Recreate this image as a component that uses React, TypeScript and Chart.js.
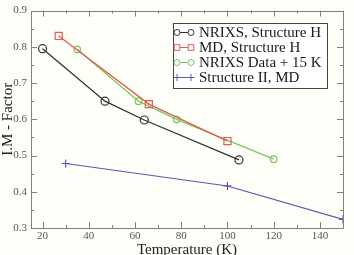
import React, { useEffect, useRef } from "react";
import { Chart, registerables } from "chart.js";

Chart.register(...registerables);

const nrixsHTemp = [20, 47, 64, 105];
const nrixsHValue = [0.795, 0.65, 0.598, 0.488];
const mdHTemp = [27, 66, 100];
const mdHValue = [0.83, 0.642, 0.54];
const nrixs15Temp = [35, 61.5, 78, 120];
const nrixs15Value = [0.793, 0.65, 0.6, 0.49];
const struct2Temp = [30, 100, 150];
const struct2Value = [0.478, 0.416, 0.324];

const xTickValues = [20, 40, 60, 80, 100, 120, 140];
const xMinorValues = [30, 50, 70, 90, 110, 130, 150];
const yTickValues = [0.3, 0.4, 0.5, 0.6, 0.7, 0.8, 0.9];
const yMinorValues = [0.35, 0.45, 0.55, 0.65, 0.75, 0.85];

const seriesNames = ["NRIXS, Structure H", "MD, Structure H", "NRIXS Data + 15 K", "Structure II, MD"];

const SERIF = "'Liberation Serif', 'DejaVu Serif', serif";
const FRAME = "#808080";

const zip = (xs: number[], ys: number[]) => xs.map((x, i) => ({ x, y: ys[i] }));

const framePlugin = {
  id: "frame",
  beforeDatasetsDraw(chart: any) {
    const { ctx, chartArea: a, scales } = chart;
    const xs = scales.x;
    const ys = scales.y;
    ctx.save();
    ctx.strokeStyle = FRAME;
    ctx.lineWidth = 1;
    ctx.beginPath();
    ctx.rect(Math.round(a.left) + 0.5, Math.round(a.top) + 0.5, Math.round(a.right - a.left), Math.round(a.bottom - a.top));
    ctx.stroke();
    const tick = (vals: number[], len: number) => {
      ctx.beginPath();
      vals.forEach((v) => {
        const px = Math.round(xs.getPixelForValue(v)) + 0.5;
        ctx.moveTo(px, a.bottom);
        ctx.lineTo(px, a.bottom - len);
        ctx.moveTo(px, a.top);
        ctx.lineTo(px, a.top + len);
      });
      ctx.stroke();
    };
    const ytick = (vals: number[], len: number) => {
      ctx.beginPath();
      vals.forEach((v) => {
        const py = Math.round(ys.getPixelForValue(v)) + 0.5;
        ctx.moveTo(a.left, py);
        ctx.lineTo(a.left + len, py);
        ctx.moveTo(a.right, py);
        ctx.lineTo(a.right - len, py);
      });
      ctx.stroke();
    };
    tick(xTickValues, 6);
    tick(xMinorValues, 3);
    ytick(yTickValues, 6);
    ytick(yMinorValues, 3);
    ctx.restore();
  },
};

const legendPlugin = {
  id: "boxLegend",
  afterDatasetsDraw(chart: any) {
    const { ctx } = chart;
    const left = 173;
    const top = 23;
    const w = 154;
    const h = 65;
    ctx.save();
    ctx.fillStyle = "#ffffff";
    ctx.strokeStyle = "#444444";
    ctx.lineWidth = 1;
    ctx.fillRect(left + 0.5, top + 0.5, w, h);
    ctx.strokeRect(left + 0.5, top + 0.5, w, h);
    ctx.font = "15px " + SERIF;
    ctx.textBaseline = "middle";
    chart.data.datasets.forEach((ds: any, i: number) => {
      const y = top + 9.5 + i * 15;
      const x1 = left + 4;
      const x2 = left + 18;
      ctx.strokeStyle = ds.borderColor;
      ctx.lineWidth = 1;
      ctx.beginPath();
      ctx.moveTo(x1, y);
      ctx.lineTo(x2, y);
      ctx.stroke();
      [x1, x2].forEach((x) => {
        ctx.fillStyle = "#ffffff";
        ctx.beginPath();
        if (ds.pointStyle === "circle") {
          ctx.arc(x, y, 3, 0, Math.PI * 2);
          ctx.fill();
          ctx.stroke();
        } else if (ds.pointStyle === "rect") {
          ctx.fillRect(x - 2.8, y - 2.8, 5.6, 5.6);
          ctx.strokeRect(x - 2.8, y - 2.8, 5.6, 5.6);
        } else {
          ctx.moveTo(x - 3.5, y);
          ctx.lineTo(x + 3.5, y);
          ctx.moveTo(x, y - 3.5);
          ctx.lineTo(x, y + 3.5);
          ctx.stroke();
        }
      });
      ctx.fillStyle = "#1a1a1a";
      ctx.fillText(ds.label, left + 26, y + 0.5);
    });
    ctx.restore();
  },
};

export default function App() {
  const ref = useRef<HTMLCanvasElement>(null);
  useEffect(() => {
    document.body.style.margin = "0";
    document.body.style.background = "#fefef9";
    const canvas = ref.current!;
    const chart = new Chart(canvas, {
      type: "line",
      data: {
        datasets: [
          {
            label: seriesNames[0],
            data: zip(nrixsHTemp, nrixsHValue),
            borderColor: "#333333",
            backgroundColor: "rgba(0,0,0,0)",
            pointStyle: "circle",
            pointRadius: 4,
            borderWidth: 1.3,
            pointBorderWidth: 1.2,
          },
          {
            label: seriesNames[1],
            data: zip(mdHTemp, mdHValue),
            borderColor: "#e25a5a",
            backgroundColor: "rgba(0,0,0,0)",
            pointStyle: "rect",
            pointRadius: 5,
            borderWidth: 1.3,
            pointBorderWidth: 1.2,
          },
          {
            label: seriesNames[2],
            data: zip(nrixs15Temp, nrixs15Value),
            borderColor: "#7cc65a",
            backgroundColor: "rgba(0,0,0,0)",
            pointStyle: "circle",
            pointRadius: 3.3,
            borderWidth: 1.3,
            pointBorderWidth: 1.2,
          },
          {
            label: seriesNames[3],
            data: zip(struct2Temp, struct2Value),
            borderColor: "#5858b4",
            backgroundColor: "rgba(0,0,0,0)",
            pointStyle: "cross",
            pointRadius: 4,
            borderWidth: 1.2,
            pointBorderWidth: 1.2,
          },
        ],
      },
      options: {
        animation: false,
        responsive: false,
        maintainAspectRatio: false,
        layout: { padding: { top: 8, right: 11, left: 0, bottom: 0 } },
        plugins: { legend: { display: false }, tooltip: { enabled: false } },
        elements: { line: { tension: 0 } },
        scales: {
          x: {
            type: "linear",
            min: 15,
            max: 150,
            grid: { display: false, drawTicks: false },
            border: { display: false },
            afterBuildTicks: (s: any) => {
              s.ticks = xTickValues.map((v) => ({ value: v }));
            },
            afterFit: (s: any) => {
              s.height = 27;
            },
            ticks: {
              padding: 2,
              color: "#555555",
              font: { family: SERIF, size: 11 },
              maxRotation: 0,
              callback: (v: any) => String(v),
            },
            title: {
              display: true,
              text: "Temperature (K)",
              color: "#222222",
              font: { family: SERIF, size: 15, lineHeight: 1 },
              padding: { top: 0, bottom: -3 },
            },
          },
          y: {
            type: "linear",
            min: 0.3,
            max: 0.9,
            grid: { display: false, drawTicks: false },
            border: { display: false },
            afterBuildTicks: (s: any) => {
              s.ticks = yTickValues.map((v) => ({ value: v }));
            },
            afterFit: (s: any) => {
              s.width = 31;
            },
            ticks: {
              padding: 4,
              color: "#555555",
              font: { family: SERIF, size: 11 },
              callback: (v: any) => Number(v).toFixed(1),
            },
            title: {
              display: true,
              text: "I.M - Factor",
              color: "#222222",
              font: { family: SERIF, size: 15, lineHeight: 1 },
              padding: { top: 1, bottom: 0 },
            },
          },
        },
      },
      plugins: [framePlugin, legendPlugin],
    } as any);
    return () => chart.destroy();
  }, []);
  return (
    <div style={{ width: 354, height: 255 }}>
      <canvas ref={ref} width={354} height={255} style={{ width: 354, height: 255, display: "block" }} />
    </div>
  );
}
